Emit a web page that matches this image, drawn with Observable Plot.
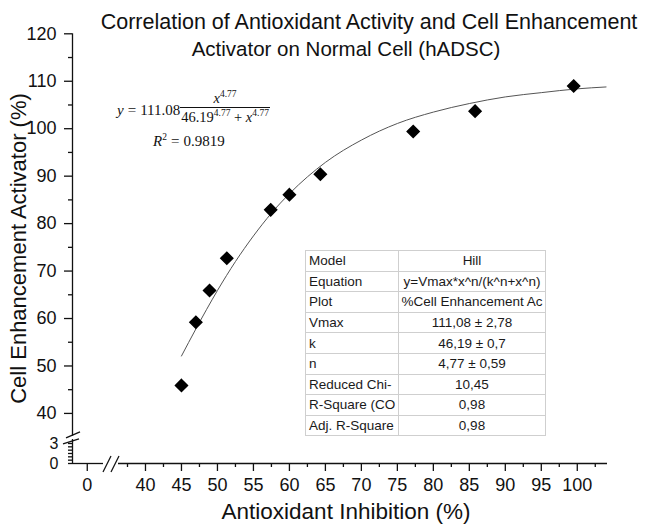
<!DOCTYPE html>
<html><head><meta charset="utf-8">
<script src="https://cdn.jsdelivr.net/npm/d3@7"></script>
<script src="https://cdn.jsdelivr.net/npm/@observablehq/plot@0.6"></script>
<style>
body{margin:0;background:#fff;font-family:"Liberation Sans",Arial,sans-serif;}
#wrap{position:relative;width:645px;height:532px;}
#wrap svg{position:absolute;left:0;top:0;}
.eq{position:absolute;font-family:"Liberation Serif","DejaVu Serif",serif;font-size:15px;line-height:18px;color:#111;white-space:nowrap;}
.eq sup{font-size:9.5px;vertical-align:6px;line-height:0;}
.frac{text-align:center;width:90px;font-size:14.5px;}
.frac .den{border-top:1px solid #111;display:block;}
.frac .num{display:block;}
.eq .op{margin:0 4px;}
#tbl{position:absolute;left:305px;top:250px;border-collapse:collapse;border:1px solid #999;font-size:13.5px;color:#1a1a1a;table-layout:fixed;width:241px;}
#tbl td{border:1px solid #cfcfcf;height:19.6px;padding:0 3px;white-space:nowrap;overflow:hidden;line-height:19px;}
#tbl td.v{text-align:center;padding:0 1px;}
</style></head><body><div id="wrap"></div>
<script>
// Measured points (Antioxidant Inhibition %, Cell Enhancement Activator %)
const inhibition  = [45, 47, 48.9, 51.3, 57.4, 60, 64.3, 77.2, 85.8, 99.5];
const enhancement = [45.9, 59.2, 65.9, 72.7, 82.9, 86.1, 90.4, 99.4, 103.7, 109.0];
// Fitted Hill curve
const fitX = [45, 47, 50, 52.5, 55, 57.5, 60, 65, 70, 75, 80, 85, 90, 95, 100, 104];
const fitY = [52.1, 57.8, 65.9, 72.0, 77.4, 82.2, 86.3, 92.9, 97.6, 101.1, 103.5, 105.3, 106.7, 107.6, 108.4, 108.8];
// Ticks
const xMajorTicks = [0, 40, 45, 50, 55, 60, 65, 70, 75, 80, 85, 90, 95, 100];
const xMinorTicks = [37.5, 42.5, 47.5, 52.5, 57.5, 62.5, 67.5, 72.5, 77.5, 82.5, 87.5, 92.5, 97.5, 102.5];
const yMajorTicks = [40, 50, 60, 70, 80, 90, 100, 110, 120];
const yMinorTicks = [45, 55, 65, 75, 85, 95, 105, 115];
const yLowTicks = [0, 0.5, 1, 1.5, 2, 2.5, 3];
const yLowLabels = [0, 3];
// Broken axes: lower segment and upper segment limits
const xLow = [-5, 5.5];
const xHigh = [36.25, 104.2];
const yLow = [0, 3.6];
const yHigh = [35.2, 120];
// Texts
const titleLines = ["Correlation of Antioxidant Activity and Cell Enhancement", "Activator on Normal Cell (hADSC)"];
const xLabel = "Antioxidant Inhibition (%)";
const yLabel = "Cell Enhancement Activator (%)";
const tableKeys = ["Model", "Equation", "Plot", "Vmax", "k", "n", "Reduced Chi-", "R-Square (CO", "Adj. R-Square"];
const tableValues = ["Hill", "y=Vmax*x^n/(k^n+x^n)", "%Cell Enhancement Ac", "111,08 ± 2,78", "46,19 ± 0,7", "4,77 ± 0,59", "10,45", "0,98", "0,98"];

const points = inhibition.map((x, i) => ({x, y: enhancement[i]}));
const fit = fitX.map((x, i) => ({x, y: fitY[i]}));

const W = 645, H = 532, mL = 72, mR = 38, mT = 33, mB = 69;

function breakMarks(index, scales) {
  const g = d3.create("svg:g").attr("stroke", "#111").attr("stroke-width", 1.3).attr("fill", "none");
  const ax = scales.x(xLow[0]);
  const ayGap = (scales.y(yLow[1]) + scales.y(yHigh[0])) / 2;
  // y-axis break slashes
  g.append("line").attr("x1", ax - 6).attr("y1", ayGap + 0.5).attr("x2", ax + 8).attr("y2", ayGap - 5.5);
  g.append("line").attr("x1", ax - 9).attr("y1", ayGap + 6.5).attr("x2", ax + 7).attr("y2", ayGap + 1.5);
  // x-axis break slashes
  const bx = scales.x(xLow[1]);
  const by = scales.y(yLow[0]);
  g.append("line").attr("x1", bx).attr("y1", by + 9).attr("x2", bx + 8).attr("y2", by - 7);
  g.append("line").attr("x1", bx + 8).attr("y1", by + 9).attr("x2", bx + 16).attr("y2", by - 7);
  return g.node();
}

const chart = Plot.plot({
  width: W, height: H,
  marginLeft: mL, marginRight: mR, marginTop: mT, marginBottom: mB,
  style: {fontFamily: "'Liberation Sans', Arial, sans-serif", fontSize: "18px", color: "#111", background: "transparent"},
  x: {type: "linear", domain: [xLow[0], xLow[1], xHigh[0], xHigh[1]], range: [mL, 103, 118, W - mR]},
  y: {type: "linear", domain: [yLow[0], yLow[1], yHigh[0], yHigh[1]], range: [H - mB, 439, 435.7, mT + 0.3]},
  marks: [
    // axis lines (broken)
    Plot.ruleY([yLow[0], yLow[0]], {x1: [xLow[0], xHigh[0]], x2: [xLow[1], xHigh[1]], stroke: "#111", strokeWidth: 1.3}),
    Plot.ruleX([xLow[0], xLow[0]], {y1: [yLow[0], yHigh[0]], y2: [yLow[1], yHigh[1]], stroke: "#111", strokeWidth: 1.3}),
    breakMarks,
    Plot.axisX(xMajorTicks, {tickSize: 8, tickPadding: 7, fontSize: 18, label: null, tickFormat: d => String(d), strokeWidth: 1.3}),
    Plot.axisX(xMinorTicks, {tickSize: 4, tickFormat: () => "", label: null, strokeWidth: 1.3}),
    Plot.axisY(yMajorTicks, {tickSize: 8, tickPadding: 8, fontSize: 18, label: null, tickFormat: d => String(d), strokeWidth: 1.3}),
    Plot.axisY(yMinorTicks, {tickSize: 4, tickFormat: () => "", label: null, strokeWidth: 1.3}),
    Plot.axisY(yLowTicks, {tickSize: 4, tickPadding: 10, fontSize: 16, label: null, strokeWidth: 1.3,
      tickFormat: d => yLowLabels.includes(d) ? String(d) : ""}),
    // fitted curve
    Plot.line(fit, {x: "x", y: "y", curve: "monotone-x", stroke: "#555", strokeWidth: 1}),
    // data points
    Plot.dot(points, {x: "x", y: "y", symbol: "diamond2", r: 5.4, fill: "#000", stroke: "#000"}),
    // titles and axis labels
    Plot.text([titleLines[0]], {text: d => d, frameAnchor: "top", dx: 29, dy: -20, fontSize: 21.5, fill: "#111"}),
    Plot.text([titleLines[1]], {text: d => d, frameAnchor: "top", dx: 6, dy: 8, fontSize: 20.5, fill: "#111"}),
    Plot.text([xLabel], {text: d => d, frameAnchor: "bottom", dx: 6, dy: 55, fontSize: 22.5, fill: "#111"}),
    Plot.text([yLabel], {text: d => d, frameAnchor: "left", textAnchor: "middle", rotate: -90, dx: -54, dy: 0, fontSize: 22, fill: "#111"})
  ]
});
const wrap = document.getElementById("wrap");
wrap.appendChild(chart);

// Equation annotation
const lhs = document.createElement("div");
lhs.className = "eq";
lhs.style.left = "117px"; lhs.style.top = "101px";
lhs.innerHTML = "<i>y</i><span class='op'>=</span>111.08";
wrap.appendChild(lhs);
const frac = document.createElement("div");
frac.className = "eq frac";
frac.style.left = "180px"; frac.style.top = "89px";
frac.innerHTML = "<span class='num'><i>x</i><sup>4.77</sup></span><span class='den'>46.19<sup>4.77</sup> + <i>x</i><sup>4.77</sup></span>";
wrap.appendChild(frac);
const r2 = document.createElement("div");
r2.className = "eq";
r2.style.left = "153px"; r2.style.top = "132px";
r2.innerHTML = "<i>R</i><sup>2</sup><span class='op'>=</span>0.9819";
wrap.appendChild(r2);

// Fit parameter table
const tbl = document.createElement("table");
tbl.id = "tbl";
tbl.innerHTML = "<colgroup><col style='width:93px'><col></colgroup>" +
  tableKeys.map((k, i) => `<tr><td>${k}</td><td class="v">${tableValues[i]}</td></tr>`).join("");
wrap.appendChild(tbl);
</script></body></html>
